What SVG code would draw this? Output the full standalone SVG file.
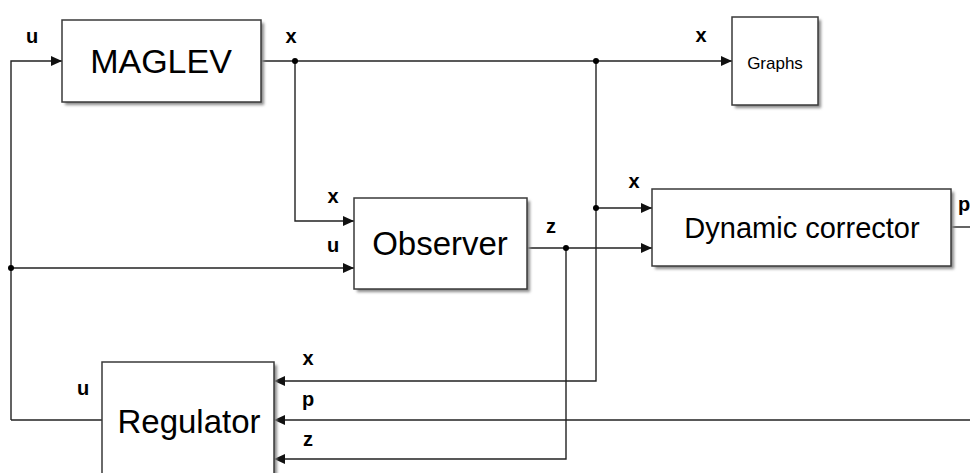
<svg xmlns="http://www.w3.org/2000/svg" width="970" height="473" viewBox="0 0 970 473">
<style>
.box{fill:#fff;stroke:#3a3a3a;stroke-width:1.5}
.shadow{fill:#8a8a8a;filter:url(#blur)}
.big{font-family:"Liberation Sans",Arial,sans-serif;fill:#000;text-anchor:middle}
.lbl{font-family:"Liberation Sans",Arial,sans-serif;font-weight:bold;font-size:20px;fill:#000;text-anchor:middle}
.wire{fill:none;stroke:#222;stroke-width:1.4}
.dot{fill:#000}
</style>
<defs>
<filter id="blur" x="-10%" y="-10%" width="130%" height="130%"><feGaussianBlur stdDeviation="1.5"/></filter>
<marker id="arr" markerWidth="12" markerHeight="10" refX="11" refY="5" orient="auto" markerUnits="userSpaceOnUse">
<path d="M0,0 L11,5 L0,10 Z" fill="#111"/>
</marker>
</defs>
<rect width="970" height="473" fill="#fff"/>
<g id="connectors">
<path class="wire" d="M11,420 L11,61 L62,61" marker-end="url(#arr)"/>
<path class="wire" d="M261,61 L732,61" marker-end="url(#arr)"/>
<path class="wire" d="M295,61 L295,221 L354,221" marker-end="url(#arr)"/>
<path class="wire" d="M11,268 L354,268" marker-end="url(#arr)"/>
<path class="wire" d="M596,61 L596,381 L274,381" marker-end="url(#arr)"/>
<path class="wire" d="M596,208 L652,208" marker-end="url(#arr)"/>
<path class="wire" d="M527,248 L652,248" marker-end="url(#arr)"/>
<path class="wire" d="M566,248 L566,459 L274,459" marker-end="url(#arr)"/>
<path class="wire" d="M951,227 L972,227"/>
<path class="wire" d="M972,420 L274,420" marker-end="url(#arr)"/>
<path class="wire" d="M102,420 L11,420"/>
<circle class="dot" cx="295" cy="61" r="3"/>
<circle class="dot" cx="596" cy="61" r="3"/>
<circle class="dot" cx="596" cy="208" r="3"/>
<circle class="dot" cx="566" cy="248" r="3"/>
<circle class="dot" cx="11" cy="268" r="3"/>
<text class="lbl" x="32" y="43">u</text>
<text class="lbl" x="291" y="43">x</text>
<text class="lbl" x="701" y="42">x</text>
<text class="lbl" x="333" y="203">x</text>
<text class="lbl" x="333" y="252">u</text>
<text class="lbl" x="551" y="233">z</text>
<text class="lbl" x="634" y="188">x</text>
<text class="lbl" x="958" y="211" style="text-anchor:start">p</text>
<text class="lbl" x="308" y="365">x</text>
<text class="lbl" x="308" y="406">p</text>
<text class="lbl" x="308" y="446">z</text>
<text class="lbl" x="83" y="395">u</text>
</g>
<g id="maglev">
<rect class="shadow" x="65" y="23" width="199" height="82"/>
<rect class="box" x="62" y="20" width="199" height="82"/>
<text class="big" x="161" y="73" font-size="34">MAGLEV</text>
</g>
<g id="graphs">
<rect class="shadow" x="735" y="20" width="86" height="88"/>
<rect class="box" x="732" y="17" width="86" height="88"/>
<text class="big" x="775" y="69" font-size="17">Graphs</text>
</g>
<g id="observer">
<rect class="shadow" x="357" y="201" width="173" height="91"/>
<rect class="box" x="354" y="198" width="173" height="91"/>
<text class="big" x="440" y="255" font-size="33">Observer</text>
</g>
<g id="dynamic-corrector">
<rect class="shadow" x="655" y="192" width="299" height="77"/>
<rect class="box" x="652" y="189" width="299" height="77"/>
<text class="big" x="802" y="238" font-size="29">Dynamic corrector</text>
</g>
<g id="regulator">
<rect class="shadow" x="105" y="365" width="172" height="115"/>
<rect class="box" x="102" y="362" width="172" height="115"/>
<text class="big" x="189" y="433" font-size="33">Regulator</text>
</g>
</svg>
